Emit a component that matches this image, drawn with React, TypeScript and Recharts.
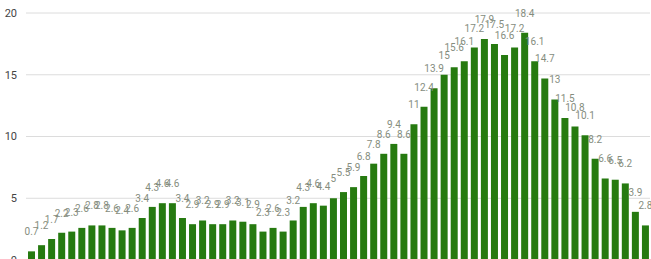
import React from "react";
import { BarChart, Bar, XAxis, YAxis, CartesianGrid, LabelList } from "recharts";

const categories: string[] = Array.from({ length: 62 }, (_, i) => `D${i + 1}`);
const values: number[] = [
  0.7, 1.2, 1.7, 2.2, 2.3, 2.6, 2.8, 2.8, 2.6, 2.4,
  2.6, 3.4, 4.3, 4.6, 4.6, 3.4, 2.9, 3.2, 2.9, 2.9,
  3.2, 3.1, 2.9, 2.3, 2.6, 2.3, 3.2, 4.3, 4.6, 4.4,
  5, 5.5, 5.9, 6.8, 7.8, 8.6, 9.4, 8.6, 11, 12.4,
  13.9, 15, 15.6, 16.1, 17.2, 17.9, 17.5, 16.6, 17.2, 18.4,
  16.1, 14.7, 13, 11.5, 10.8, 10.1, 8.2, 6.6, 6.5, 6.2,
  3.9, 2.8,
];
const yTicks: number[] = [0, 5, 10, 15, 20];

const data = categories.map((c, i) => ({ name: c, v: values[i] }));

export default function App() {
  return (
    <div style={{ position: "absolute", left: 0, top: 0, width: 651, height: 259, overflow: "hidden", background: "#fff" }}>
      <BarChart
        width={651}
        height={270}
        data={data}
        margin={{ top: 13, right: 1, bottom: 10, left: 0 }}
        barCategoryGap={0}
      >
        <CartesianGrid vertical={false} stroke="#dcdcdc" />
        <XAxis dataKey="name" hide />
        <YAxis
          domain={[0, 20]}
          ticks={yTicks}
          width={26}
          axisLine={false}
          tickLine={false}
          tickSize={0}
          tickMargin={9}
          tick={{ fill: "#444", fontSize: 11, fontFamily: "Roboto, sans-serif" }}
        />
        <Bar dataKey="v" fill="#267a10" barSize={7} isAnimationActive={false}>
          <LabelList
            dataKey="v"
            position="top"
            offset={16}
            style={{ fill: "#858d7e", fontSize: 10, fontFamily: "Roboto, sans-serif" }}
          />
        </Bar>
      </BarChart>
    </div>
  );
}
